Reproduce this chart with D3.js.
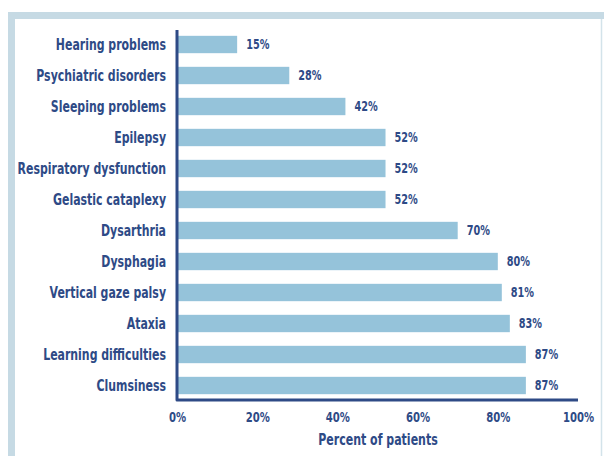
<!DOCTYPE html>
<html><head><meta charset="utf-8">
<script src="https://cdn.jsdelivr.net/npm/d3@7"></script>
<style>
html,body{margin:0;padding:0;background:#fff;}
svg{display:block;}
</style></head>
<body>
<script>
const categories = ["Hearing problems","Psychiatric disorders","Sleeping problems","Epilepsy","Respiratory dysfunction","Gelastic cataplexy","Dysarthria","Dysphagia","Vertical gaze palsy","Ataxia","Learning difficulties","Clumsiness"];
const values = [15,28,42,52,52,52,70,80,81,83,87,87];
const tickValues = [0,20,40,60,80,100];
const axisTitle = "Percent of patients";

const W = 604, H = 456;
const navy = "#2e4a86", barColor = "#95c3da", frame = "#c6dae4";
const fontLabel = "'DejaVu Sans Condensed','Liberation Sans Narrow',sans-serif";
const sxLabel = 0.77, sxValue = 0.8, sxTick = 0.83, sxTitle = 0.79;

const svg = d3.select("body").append("svg").attr("width", W).attr("height", H);

// frame
svg.append("rect").attr("x", 8).attr("y", 12).attr("width", W - 8).attr("height", 7).attr("fill", frame);
svg.append("rect").attr("x", 8).attr("y", 12).attr("width", 7).attr("height", H - 12).attr("fill", frame);
svg.append("line").attr("x1", 601.5).attr("x2", 601.5).attr("y1", 19).attr("y2", H)
  .attr("stroke", "#d3e3ea").attr("stroke-width", 1.5);

const x = d3.scaleLinear().domain([0,100]).range([177,578]);
const y = d3.scaleBand().domain(categories).range([29,401]).paddingInner(0.44).paddingOuter(0.22);

svg.append("g").selectAll("rect").data(categories).join("rect")
  .attr("x", x(0)).attr("y", d => y(d))
  .attr("width", (d,i) => x(values[i]) - x(0)).attr("height", y.bandwidth())
  .attr("fill", barColor);

// axes lines
svg.append("path")
  .attr("d", `M${x(0)},30 L${x(0)},400 L${x(100)},400`)
  .attr("fill","none").attr("stroke", navy).attr("stroke-width", 3).attr("stroke-linejoin","round");

// y labels
const yAxis = d3.axisLeft(y).tickSize(0).tickPadding(11);
const gy = svg.append("g").attr("transform", `translate(${x(0)},0)`).call(yAxis);
gy.select(".domain").remove();
gy.selectAll("text").attr("fill", navy).style("font-family", fontLabel)
  .style("font-size","15.8px").style("font-weight","bold")
  .attr("x", -11 / sxLabel).attr("transform", `scale(${sxLabel},1)`);

// value labels
svg.append("g").selectAll("text").data(categories).join("text")
  .attr("x", (d,i) => (x(values[i]) + 9) / sxValue).attr("y", d => y(d) + y.bandwidth()/2)
  .attr("transform", `scale(${sxValue},1)`)
  .attr("dy","0.35em").attr("fill", navy)
  .style("font-family", fontLabel).style("font-size","13.5px").style("font-weight","bold")
  .text((d,i) => values[i] + "%");

// x axis ticks
const xAxis = d3.axisBottom(x).tickValues(tickValues).tickSize(0).tickPadding(12).tickFormat(d => d + "%");
const gx = svg.append("g").attr("transform", `translate(0,400)`).call(xAxis);
gx.select(".domain").remove();
gx.selectAll("text").attr("fill", navy).style("font-family", fontLabel)
  .style("font-size","13.5px").style("font-weight","bold").attr("transform", `scale(${sxTick},1)`);

svg.append("text").attr("x", 378 / sxTitle).attr("y", 445).attr("text-anchor","middle")
  .attr("transform", `scale(${sxTitle},1)`)
  .attr("fill", navy).style("font-family", fontLabel).style("font-size","15.5px").style("font-weight","bold")
  .text(axisTitle);
</script>
</body></html>
